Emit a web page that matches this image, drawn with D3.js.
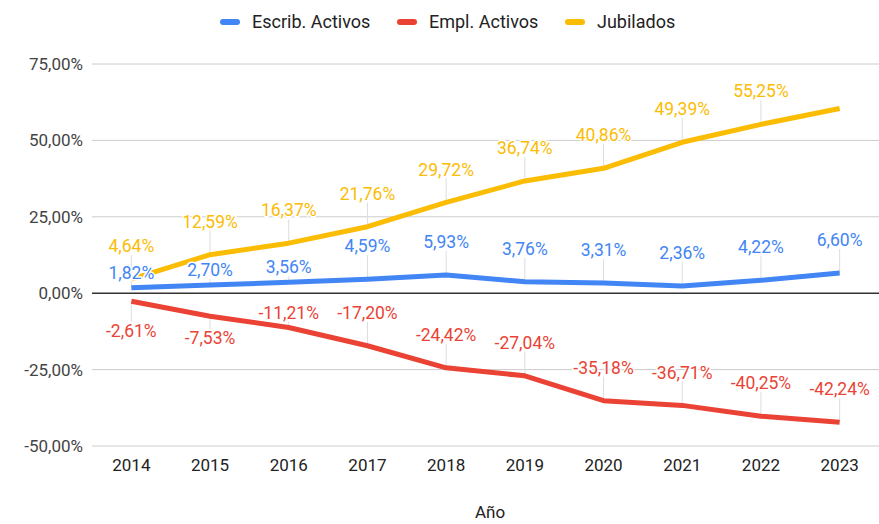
<!DOCTYPE html>
<html>
<head>
<meta charset="utf-8">
<script src="https://cdn.jsdelivr.net/npm/d3@7"></script>
<style>
  html, body { margin: 0; padding: 0; background: #fff; }
  svg { display: block; font-family: Roboto, "Noto Sans", Arial, sans-serif; }
</style>
</head>
<body>
<svg id="chart" width="879" height="524"></svg>
<script>
// ---- Data ----
const years = ["2014","2015","2016","2017","2018","2019","2020","2021","2022","2023"];
const escribActivos = [1.82, 2.70, 3.56, 4.59, 5.93, 3.76, 3.31, 2.36, 4.22, 6.60];
const emplActivos = [-2.61, -7.53, -11.21, -17.20, -24.42, -27.04, -35.18, -36.71, -40.25, -42.24];
const jubilados = [4.64, 12.59, 16.37, 21.76, 29.72, 36.74, 40.86, 49.39, 55.25, 60.45];
const seriesNames = ["Escrib. Activos", "Empl. Activos", "Jubilados"];
const yTicks = [-50, -25, 0, 25, 50, 75];
// annotation placement hints (label shown / side)
const escribPlace = ["upNear","upNear","upNear","up","up","up","up","up","up","up"];
const emplPlace = ["down","downNear","upNear","up","up","up","up","up","up","up"];
const jubilPlace = ["up","up","up","up","up","up","up","up","up",null];

const colors = ["#4285F4", "#EA4335", "#FBBC04"];
const placeDy = { up: -33, upNear: -15, down: 30, downNear: 22 };

const fmt = v => v.toFixed(2).replace(".", ",") + "%";

const svg = d3.select("#chart");
const W = 879, H = 524;
const m = { left: 92, right: 0, top: 64, bottom: 78 };

const x = d3.scaleBand().domain(years).range([m.left, W - m.right]);
const y = d3.scaleLinear().domain([-50, 75]).range([446, 64]);

// gridlines
svg.append("g").selectAll("line").data(yTicks.filter(t => t !== 0)).join("line")
  .attr("x1", m.left).attr("x2", W - m.right)
  .attr("y1", d => y(d)).attr("y2", d => y(d))
  .attr("stroke", "#cccccc").attr("stroke-width", 1);

// y-axis labels
const yAxis = d3.axisLeft(y).tickValues(yTicks).tickSize(0).tickPadding(9)
  .tickFormat(d => d.toFixed(2).replace(".", ",") + "%");
const gy = svg.append("g").attr("transform", `translate(${m.left},0)`).call(yAxis);
gy.select(".domain").remove();
gy.selectAll("text").attr("font-size", 17).attr("fill", "#444").attr("font-family", "Roboto");

// x-axis labels
const xAxis = d3.axisBottom(x).tickSize(0).tickPadding(13);
const gx = svg.append("g").attr("transform", `translate(0,${y(-50)})`).call(xAxis);
gx.select(".domain").remove();
gx.selectAll("text").attr("font-size", 17).attr("fill", "#222").attr("font-family", "Roboto");

// axis title
svg.append("text").attr("x", 490).attr("y", 518).attr("text-anchor", "middle")
  .attr("font-size", 17).attr("fill", "#222").text("Año");

const series = [
  { name: seriesNames[0], values: escribActivos, place: escribPlace, color: colors[0] },
  { name: seriesNames[1], values: emplActivos, place: emplPlace, color: colors[1] },
  { name: seriesNames[2], values: jubilados, place: jubilPlace, color: colors[2] }
];
const cx = d => x(d) + x.bandwidth() / 2;

// stems
const stems = svg.append("g");
series.forEach(s => {
  s.values.forEach((v, i) => {
    const p = s.place[i];
    if (!p) return;
    const py = y(v), dy = placeDy[p];
    const labelEdge = py + dy + (dy < 0 ? 9 : -9);
    if (Math.abs(labelEdge - py) < 6) return;
    stems.append("line")
      .attr("x1", cx(years[i])).attr("x2", cx(years[i]))
      .attr("y1", py).attr("y2", labelEdge)
      .attr("stroke", "#dddddd").attr("stroke-width", 1);
  });
});

// zero line
svg.append("line").attr("x1", m.left).attr("x2", W - m.right)
  .attr("y1", y(0)).attr("y2", y(0)).attr("stroke", "#333").attr("stroke-width", 1.5);

// lines
const line = d3.line().x((d, i) => cx(years[i])).y(d => y(d));
series.forEach(s => {
  svg.append("path").datum(s.values)
    .attr("d", line).attr("fill", "none").attr("stroke", s.color)
    .attr("stroke-width", 5).attr("stroke-linejoin", "round");
});

// annotations
const ann = svg.append("g");
series.forEach(s => {
  s.values.forEach((v, i) => {
    const p = s.place[i];
    if (!p) return;
    ann.append("text")
      .attr("x", cx(years[i])).attr("y", y(v) + placeDy[p])
      .attr("dy", "0.35em").attr("text-anchor", "middle")
      .attr("font-size", 17.5).attr("fill", s.color)
      .attr("stroke", "#fff").attr("stroke-width", 3).attr("paint-order", "stroke")
      .text(fmt(v));
  });
});

// legend
const legendX = [220, 397, 565];
const lg = svg.append("g");
series.forEach((s, i) => {
  lg.append("rect").attr("x", legendX[i]).attr("y", 19).attr("width", 20).attr("height", 6)
    .attr("rx", 3).attr("fill", s.color);
  lg.append("text").attr("x", legendX[i] + 32).attr("y", 22).attr("dy", "0.35em")
    .attr("font-size", 18).attr("fill", "#222").text(s.name);
});
</script>
</body>
</html>
